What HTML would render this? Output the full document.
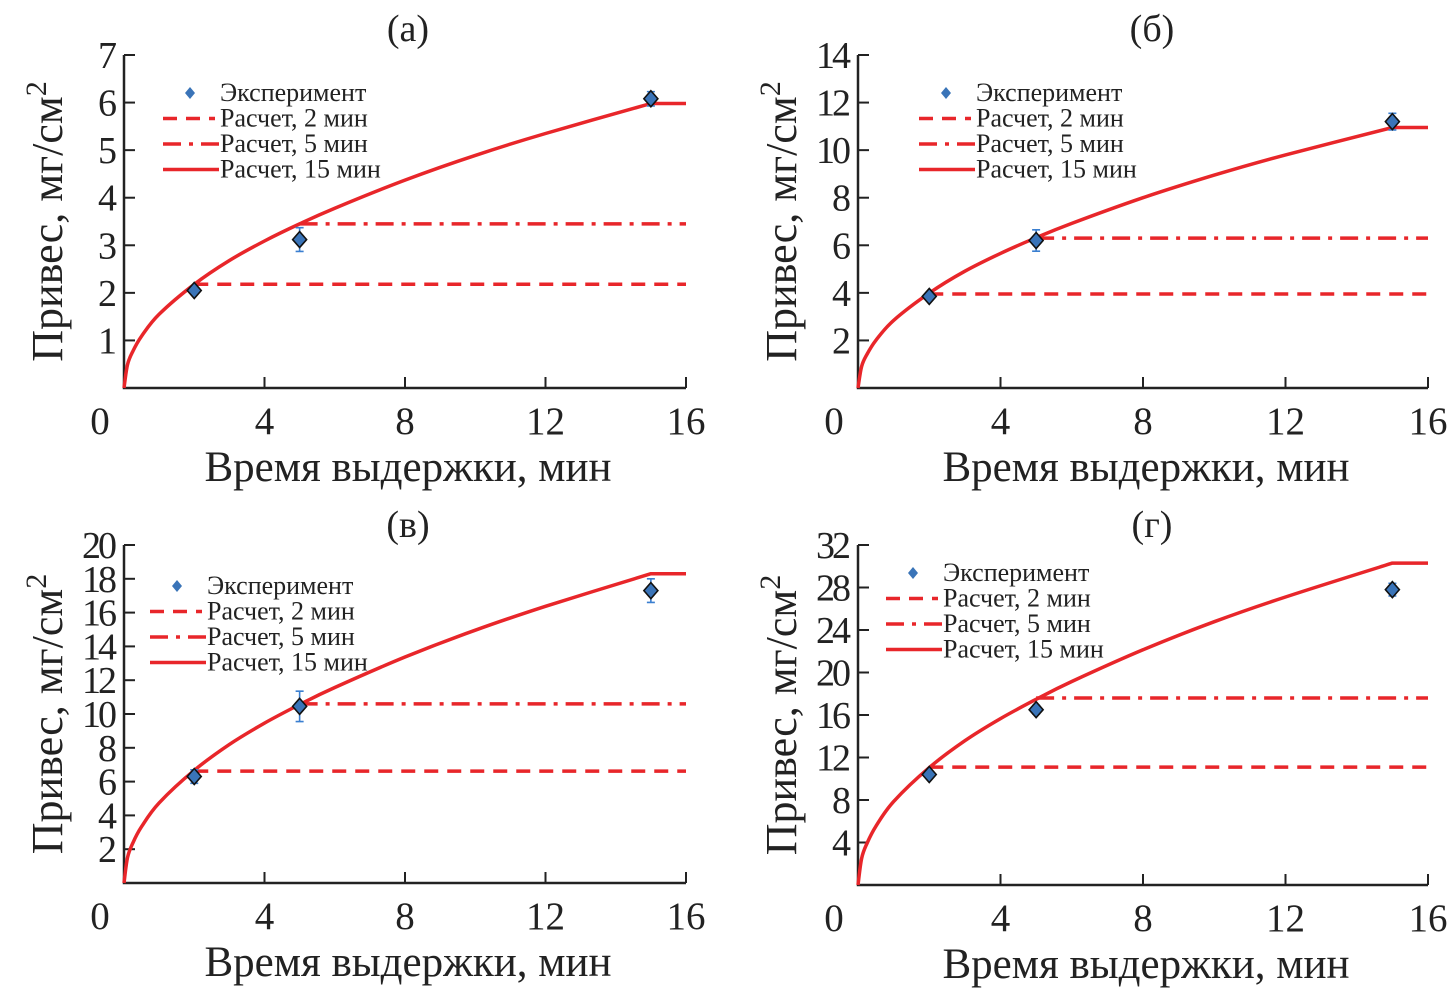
<!DOCTYPE html>
<html><head><meta charset="utf-8"><style>
body{margin:0;background:#fff;}
svg{display:block;font-family:"Liberation Serif",serif;}
</style></head><body>
<svg id="fig" width="1452" height="989" viewBox="0 0 1452 989" xmlns="http://www.w3.org/2000/svg"></svg>
<script>
const curveT = [0,0.1,0.25,0.5,1,2,3,4,5,6,8,10,12,15,16];
const expT = [2,5,15];
const curveA = [0,0.49,0.77,1.09,1.55,2.18,2.68,3.09,3.45,3.78,4.37,4.89,5.35,5.98,5.98];
const curveB = [0,0.90,1.41,2.00,2.84,3.99,4.91,5.66,6.32,6.92,8.00,8.95,9.80,10.95,10.95];
const curveC = [0,1.50,2.36,3.34,4.74,6.67,8.20,9.46,10.56,11.57,13.37,14.96,16.37,18.30,18.30];
const curveD = [0,2.48,3.90,5.52,7.85,11.05,13.58,15.66,17.48,19.15,22.14,24.78,27.11,30.30,30.30];
const expA = [2.05,3.12,6.08]; const errA = [0.08,0.25,0.15];
const expB = [3.85,6.2,11.2]; const errB = [0.1,0.45,0.35];
const expC = [6.3,10.45,17.3]; const errC = [0.4,0.9,0.7];
const expD = [10.4,16.5,27.8]; const errD = [0.3,0.4,0.6];
const calc2 = [2.18,3.95,6.62,11.1];
const calc5 = [3.45,6.3,10.6,17.6];
const xTicks = [0,4,8,12,16];
const yTicksA = [1,2,3,4,5,6,7];
const yTicksB = [2,4,6,8,10,12,14];
const yTicksC = [2,4,6,8,10,12,14,16,18,20];
const yTicksD = [4,8,12,16,20,24,28,32];
const titles = ["(а)","(б)","(в)","(г)"];

const NS="http://www.w3.org/2000/svg";
const svg=document.getElementById('fig');
function mk(tag,attrs,parent,txt){const e=document.createElementNS(NS,tag);for(const k in attrs)e.setAttribute(k,attrs[k]);if(txt!==undefined)e.textContent=txt;(parent||svg).appendChild(e);return e;}
function smooth(pts){let d='M'+pts[0][0].toFixed(1)+','+pts[0][1].toFixed(1);
 for(let i=0;i<pts.length-1;i++){const p0=pts[i-1]||pts[i],p1=pts[i],p2=pts[i+1],p3=pts[i+2]||p2;
  const c1=[p1[0]+(p2[0]-p0[0])/6,p1[1]+(p2[1]-p0[1])/6],c2=[p2[0]-(p3[0]-p1[0])/6,p2[1]-(p3[1]-p1[1])/6];
  d+=` C${c1[0].toFixed(1)},${c1[1].toFixed(1)} ${c2[0].toFixed(1)},${c2[1].toFixed(1)} ${p2[0].toFixed(1)},${p2[1].toFixed(1)}`;}
 return d;}

const panels=[
 {x0:124,x1:686,y0:388,y1:55,ymax:7,curve:curveA,exp:expA,err:errA,yt:yTicksA,lx:190,ly:93,tx:408,ty:28,idx:0},
 {x0:858,x1:1428,y0:388,y1:55,ymax:14,curve:curveB,exp:expB,err:errB,yt:yTicksB,lx:946,ly:93,tx:1152,ty:28,idx:1},
 {x0:124,x1:686,y0:883,y1:545,ymax:20,curve:curveC,exp:expC,err:errC,yt:yTicksC,lx:177,ly:586,tx:408,ty:524,idx:2},
 {x0:858,x1:1428,y0:885,y1:545,ymax:32,curve:curveD,exp:expD,err:errD,yt:yTicksD,lx:913,ly:573,tx:1152,ty:524,idx:3}
];

panels.forEach(p=>{
 const g=mk('g',{});
 
 
 const X=t=>p.x0+(t/16)*(p.x1-p.x0);
 const Y=v=>p.y0-(v/p.ymax)*(p.y0-p.y1);
 const t=mk('text',{x:p.tx,y:p.ty+13,'font-size':38,'text-anchor':'middle',fill:'#222'},g,titles[p.idx]);
 
 
 const ax=mk('path',{d:`M${p.x0},${p.y1} V${p.y0} H${p.x1}`,stroke:'#222','stroke-width':2.5,fill:'none'},g);
 
 
 xTicks.forEach(v=>{
  mk('line',{x1:X(v),x2:X(v),y1:p.y0,y2:p.y0-11,stroke:'#222','stroke-width':2},g);
  const lx=v===0?X(v)-24:X(v);
  const l=mk('text',{x:lx,y:p.y0+46,'font-size':39,'text-anchor':'middle',fill:'#222'},g,v);
  
  
 });
 p.yt.forEach(v=>{
  mk('line',{x1:p.x0,x2:p.x0+11,y1:Y(v),y2:Y(v),stroke:'#222','stroke-width':2},g);
  const l=mk('text',{x:p.x0-10,y:Y(v)+13,'font-size':38,'text-anchor':'end',fill:'#222','letter-spacing':-3},g,v);
  
  
 });
 const xt=mk('text',{x:(p.x0+p.x1)/2+3,y:p.y0+93,'font-size':43,'text-anchor':'middle',fill:'#222'},g,'Время выдержки, мин');
 
 
 const cy=(p.y0+p.y1)/2;
 const cx=p.x0-62;
 const yt=mk('text',{x:cx,y:cy,'font-size':44,'text-anchor':'middle',fill:'#222',transform:`rotate(-90 ${cx} ${cy})`},g);
 
 
 mk('tspan',{},yt,'Привес, мг/см');
 mk('tspan',{dy:-16,'font-size':30},yt,'2');
 const l2=mk('line',{x1:X(2),x2:X(16),y1:Y(calc2[p.idx]),y2:Y(calc2[p.idx]),stroke:'#e8262a','stroke-width':3.5,'stroke-dasharray':'14 9'},g);
 
 
 const l5=mk('line',{x1:X(5),x2:X(16),y1:Y(calc5[p.idx]),y2:Y(calc5[p.idx]),stroke:'#e8262a','stroke-width':3.5,'stroke-dasharray':'18 8 4 8'},g);
 
 
 const pts=curveT.slice(0,-1).map((tt,i)=>[X(tt),Y(p.curve[i])]);
 const last=curveT.length-1;
 const d=smooth(pts)+` L${X(curveT[last]).toFixed(1)},${Y(p.curve[last]).toFixed(1)}`;
 const c=mk('path',{d:d,stroke:'#e8262a','stroke-width':3.5,fill:'none','stroke-linejoin':'round'},g);
 
 
 expT.forEach((tt,i)=>{
  const px=X(tt),py=Y(p.exp[i]),e1=Y(p.exp[i]+p.err[i]),e2=Y(p.exp[i]-p.err[i]);
  const eb=mk('path',{d:`M${px},${e1} V${e2} M${px-4},${e1} H${px+4} M${px-4},${e2} H${px+4}`,stroke:'#3a7fd0','stroke-width':1.6,fill:'none'},g);
  
  
  const m=mk('path',{d:`M${px},${py-8} L${px+7},${py} L${px},${py+8} L${px-7},${py} Z`,fill:'#3a74b8',stroke:'#111','stroke-width':1.6},g);
  
  
 });
 const lg=mk('g',{},g);
 
 
 const tx=p.lx+30, ls=p.lx-27, le=p.lx+25;
 const rows=['Эксперимент','Расчет, 2 мин','Расчет, 5 мин','Расчет, 15 мин'];
 rows.forEach((r,i)=>{
  const yy=p.ly+i*25.5;
  const tt=mk('text',{x:tx,y:yy+8,'font-size':26,fill:'#222'},lg,r);
  
  
 });
 mk('path',{d:`M${p.lx},${p.ly-6} L${p.lx+5},${p.ly} L${p.lx},${p.ly+6} L${p.lx-5},${p.ly} Z`,fill:'#3a74b8'},lg);
 mk('line',{x1:ls,x2:le,y1:p.ly+25.5,y2:p.ly+25.5,stroke:'#e8262a','stroke-width':3.5,'stroke-dasharray':'14 9'},lg);
 mk('line',{x1:ls,x2:le+4,y1:p.ly+51,y2:p.ly+51,stroke:'#e8262a','stroke-width':3.5,'stroke-dasharray':'18 8 4 8'},lg);
 mk('line',{x1:ls,x2:le+4,y1:p.ly+76.5,y2:p.ly+76.5,stroke:'#e8262a','stroke-width':3.5},lg);
});
</script>
</body></html>
